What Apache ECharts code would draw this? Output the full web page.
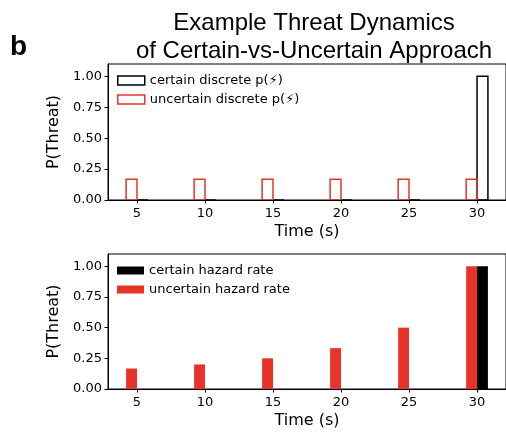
<!DOCTYPE html>
<html>
<head>
<meta charset="utf-8">
<script src="https://cdn.jsdelivr.net/npm/echarts@6/dist/echarts.min.js"></script>
<style>
html,body{margin:0;padding:0;background:#fff;}
#main{width:506px;height:433px;}
</style>
</head>
<body>
<div id="main"></div>
<script>
// 时间点 (s)
var times = [5, 10, 15, 20, 25, 30];
var xTicks = [5, 10, 15, 20, 25, 30];
var yTicks = [0, 0.25, 0.5, 0.75, 1.0];
// 上图：离散概率
var certainDiscrete = [0, 0, 0, 0, 0, 1.0];
var uncertainDiscrete = [0.167, 0.167, 0.167, 0.167, 0.167, 0.167];
// 下图：风险率
var certainHazard = [0, 0, 0, 0, 0, 1.0];
var uncertainHazard = [0.167, 0.2, 0.25, 0.333, 0.5, 1.0];

var RED = '#e8332a';
var BAR_W = 0.8;
var FONT = 'DejaVu Sans';

function pairs(vals){
	var out = [];
	for (var i = 0; i < times.length; i++) {
		out.push([times[i], vals[i]]);
	}
	return out;
}

// side: -1 左侧(t-0.8..t), +1 右侧(t..t+0.8)
function barRender(side, style){
	return function(params, api){
		var t = api.value(0), v = api.value(1);
		var x0 = side < 0 ? t - BAR_W : t;
		var p0 = api.coord([x0, 0]);
		var p1 = api.coord([x0 + BAR_W, v]);
		return {
			type: 'rect',
			shape: {x: p0[0], y: p1[1], width: p1[0] - p0[0], height: p0[1] - p1[1]},
			style: style
		};
	};
}

function xAxisOpt(idx){
	return {
		type: 'value', gridIndex: idx, min: 2.87, max: 32.13,
		name: 'Time (s)', nameLocation: 'middle', nameGap: 24,
		nameTextStyle: {fontFamily: FONT, fontSize: 16, color: '#000'},
		axisLine: {show: true, lineStyle: {color: '#000', width: 1}},
		axisTick: {show: true, length: 3.5, customValues: xTicks, lineStyle: {color: '#000'}},
		axisLabel: {customValues: xTicks, margin: 7, fontFamily: FONT, fontSize: 13, color: '#000'},
		splitLine: {show: false}
	};
}
function yAxisOpt(idx){
	return {
		type: 'value', gridIndex: idx, min: 0, max: 1.1,
		name: 'P(Threat)', nameLocation: 'middle', nameGap: 46, nameRotate: 90,
		nameTextStyle: {fontFamily: FONT, fontSize: 16, color: '#000'},
		axisLine: {show: true, lineStyle: {color: '#000', width: 1}},
		axisTick: {show: true, length: 3.5, customValues: yTicks, lineStyle: {color: '#000'}},
		axisLabel: {customValues: yTicks, margin: 6, fontFamily: FONT, fontSize: 13, color: '#000',
			formatter: function(v){ return v.toFixed(2); }},
		splitLine: {show: false}
	};
}

var chart = echarts.init(document.getElementById('main'), null, {renderer: 'canvas'});
var option = {
	backgroundColor: '#fff',
	animation: false,
	title: [
		{text: 'Example Threat Dynamics\nof Certain-vs-Uncertain Approach', left: 309, top: 4, textAlign: 'center',
			textStyle: {fontFamily: 'Liberation Sans', fontSize: 24, fontWeight: 'normal', color: '#000', lineHeight: 28}},
		{text: 'b', left: 5, top: 28,
			textStyle: {fontFamily: 'Liberation Sans', fontSize: 28, fontWeight: 'bold', color: '#000'}}
	],
	grid: [
		{left: 108, top: 64, width: 400, height: 136, show: true, borderColor: '#000', borderWidth: 1, backgroundColor: 'transparent'},
		{left: 108, top: 254, width: 400, height: 135, show: true, borderColor: '#000', borderWidth: 1, backgroundColor: 'transparent'}
	],
	legend: [
		{left: 117, top: 73, orient: 'vertical', padding: 0, itemGap: 4, itemWidth: 27, itemHeight: 9,
			textStyle: {fontFamily: FONT, fontSize: 13, color: '#000', lineHeight: 15},
			data: [
				{name: 'certain discrete p(⚡)', icon: 'rect', itemStyle: {color: '#fff', borderColor: '#000', borderWidth: 1.5}},
				{name: 'uncertain discrete p(⚡)', icon: 'rect', itemStyle: {color: '#fff', borderColor: RED, borderWidth: 1.5}}
			]},
		{left: 117, top: 263, orient: 'vertical', padding: 0, itemGap: 4, itemWidth: 27, itemHeight: 8,
			textStyle: {fontFamily: FONT, fontSize: 13, color: '#000', lineHeight: 15},
			data: [
				{name: 'certain hazard rate', icon: 'rect', itemStyle: {color: '#000', borderWidth: 0}},
				{name: 'uncertain hazard rate', icon: 'rect', itemStyle: {color: RED, borderWidth: 0}}
			]}
	],
	xAxis: [xAxisOpt(0), xAxisOpt(1)],
	yAxis: [yAxisOpt(0), yAxisOpt(1)],
	series: [
		{name: 'certain discrete p(⚡)', type: 'custom', xAxisIndex: 0, yAxisIndex: 0, clip: true,
			itemStyle: {color: '#fff', borderColor: '#000', borderWidth: 1.5},
			renderItem: barRender(1, {fill: 'rgba(0,0,0,0)', stroke: '#000', lineWidth: 1.5}),
			data: pairs(certainDiscrete)},
		{name: 'uncertain discrete p(⚡)', type: 'custom', xAxisIndex: 0, yAxisIndex: 0, clip: true,
			itemStyle: {color: '#fff', borderColor: RED, borderWidth: 1.5},
			renderItem: barRender(-1, {fill: 'rgba(0,0,0,0)', stroke: RED, lineWidth: 1.5}),
			data: pairs(uncertainDiscrete)},
		{name: 'certain hazard rate', type: 'custom', xAxisIndex: 1, yAxisIndex: 1, clip: true,
			itemStyle: {color: '#000'},
			renderItem: barRender(1, {fill: '#000'}),
			data: pairs(certainHazard)},
		{name: 'uncertain hazard rate', type: 'custom', xAxisIndex: 1, yAxisIndex: 1, clip: true,
			itemStyle: {color: RED},
			renderItem: barRender(-1, {fill: RED}),
			data: pairs(uncertainHazard)}
	]
};
chart.setOption(option);
</script>
</body>
</html>
